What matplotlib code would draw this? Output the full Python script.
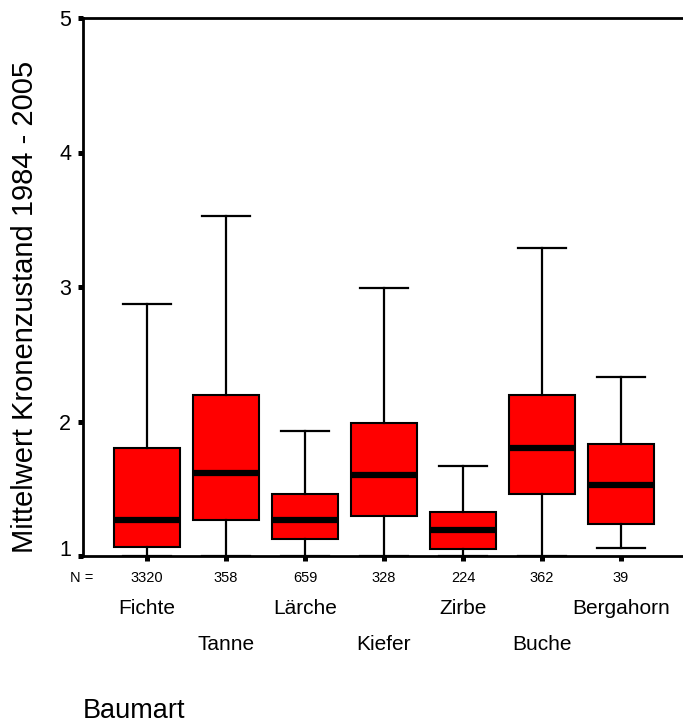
import matplotlib
matplotlib.use("Agg")
import matplotlib.pyplot as plt
from matplotlib.transforms import ScaledTranslation

plt.rcParams['font.family'] = ['Liberation Sans', 'DejaVu Sans']

categories = ["Fichte", "Tanne", "Lärche", "Kiefer", "Zirbe", "Buche", "Bergahorn"]
n_values = ["3320", "358", "659", "328", "224", "362", "39"]
whis_low = [1.0, 1.0, 1.0, 1.0, 1.0, 1.0, 1.06]
q1 = [1.07, 1.27, 1.13, 1.30, 1.05, 1.46, 1.24]
median = [1.27, 1.62, 1.27, 1.60, 1.19, 1.80, 1.53]
q3 = [1.80, 2.20, 1.46, 1.99, 1.33, 2.20, 1.83]
whis_high = [2.87, 3.53, 1.93, 2.99, 1.67, 3.29, 2.33]
y_ticks = [1, 2, 3, 4, 5]

fig = plt.figure(figsize=(6.83, 7.25), dpi=100)
ax = fig.add_axes([83/683, 1 - 556/725, 1 - 83/683, (556 - 18)/725])

stats = []
for i in range(len(categories)):
    stats.append(dict(med=median[i], q1=q1[i], q3=q3[i],
                      whislo=whis_low[i], whishi=whis_high[i], fliers=[],
                      label=categories[i]))
pos = list(range(1, len(categories) + 1))
ax.bxp(stats, positions=pos, widths=0.84, patch_artist=True, showfliers=False,
       boxprops=dict(facecolor='#ff0000', edgecolor='black', linewidth=1.5),
       medianprops=dict(color='black', linewidth=4.5, solid_capstyle='butt'),
       whiskerprops=dict(color='black', linewidth=1.6),
       capprops=dict(color='black', linewidth=1.6),
       capwidths=0.6, zorder=2)

ax.set_xlim(0.19, 7.785)
ax.set_ylim(1, 5)
ax.set_yticks(y_ticks)
ax.set_yticklabels([str(v) for v in y_ticks], fontsize=15.5)
ax.set_xticks(pos)
ax.set_xticklabels(n_values, fontsize=10.5)
ax.tick_params(axis='both', length=3.6, width=3.6, direction='out', color='black')
ax.tick_params(axis='y', pad=5)
ax.tick_params(axis='x', pad=7)

# shift bottom y tick label up like the original
lab = ax.get_yticklabels()[0]
lab.set_transform(lab.get_transform() + ScaledTranslation(0, 8/100, fig.dpi_scale_trans))

for s in ['left', 'bottom', 'top']:
    ax.spines[s].set_linewidth(2.0)
ax.spines['right'].set_visible(False)

ax.set_ylabel("Mittelwert Kronenzustand 1984 - 2005", fontsize=21)
ax.yaxis.set_label_coords(-0.073, (556 - 307) / 538)

tr = ax.get_xaxis_transform()
for i, c in enumerate(categories):
    yy = -0.0967 if i % 2 == 0 else -0.1636
    ax.text(pos[i], yy, c, transform=tr, ha='center', va='center', fontsize=15)

fig.text(82/683, 1 - 578/725, "N =", ha='center', va='center', fontsize=10.5)
fig.text(83/683, 1 - 718/725, "Baumart", ha='left', va='baseline', fontsize=19.5)

fig.savefig("out.png", dpi=100)
